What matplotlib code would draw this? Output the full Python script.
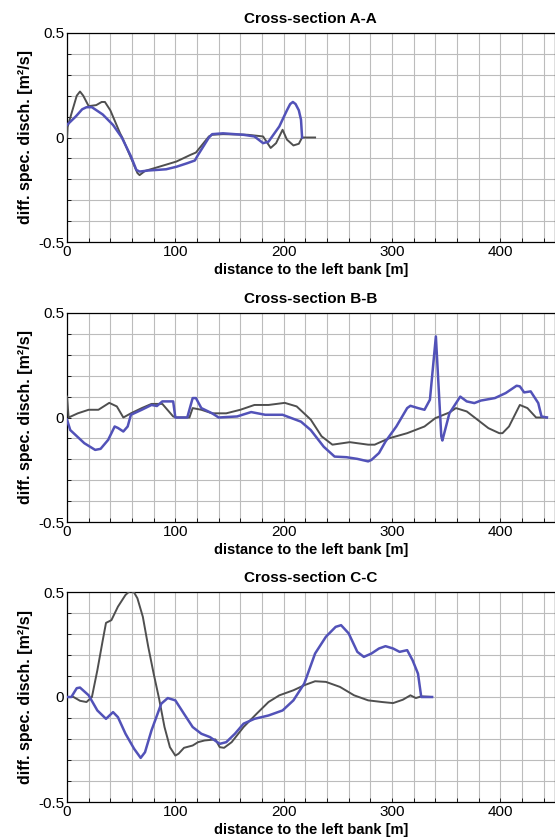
import matplotlib
matplotlib.use("Agg")
from matplotlib import pyplot as plt
from matplotlib.ticker import MultipleLocator, FixedLocator

plt.rcParams['font.family'] = ['Liberation Sans', 'DejaVu Sans']
plt.rcParams['font.size'] = 10

# Cross-section A-A
a_gray_x = [0, 0.5, 5, 9, 12, 15, 20, 27, 32, 35, 40, 49, 51, 65, 67, 72, 85, 101, 114, 119,
            131, 134, 144, 167, 181, 188, 193, 199, 203, 209, 214, 217, 229]
a_gray_y = [0.0, 0.05, 0.13, 0.2, 0.22, 0.2, 0.15, 0.155, 0.17, 0.17, 0.13, 0.02, 0.0, -0.17,
            -0.18, -0.16, -0.14, -0.115, -0.083, -0.072, 0.005, 0.013, 0.016, 0.013, 0.005,
            -0.05, -0.027, 0.037, -0.01, -0.038, -0.03, 0.0, 0.0]
a_blue_x = [0, 8, 14, 18, 23, 33, 42.5, 50.6, 59, 64, 67, 75, 91.5, 101, 111, 118, 121, 131,
            134, 144, 163, 173, 181, 186, 196, 203, 206, 208.5, 211, 214, 216, 217]
a_blue_y = [0.06, 0.10, 0.135, 0.145, 0.145, 0.11, 0.06, 0.0, -0.09, -0.155, -0.163, -0.158,
            -0.152, -0.14, -0.123, -0.11, -0.083, 0.0, 0.016, 0.02, 0.013, 0.005, -0.027, -0.02,
            0.053, 0.13, 0.16, 0.17, 0.16, 0.13, 0.085, 0.0]

# Cross-section B-B
b_gray_x = [0, 1.5, 10, 20, 29, 39, 46, 52, 59, 69, 78, 88, 98, 101, 113, 116, 124, 134, 147,
            160, 173, 186, 201, 212, 225, 235, 245, 261, 278, 284, 297, 314, 330, 340, 353, 359,
            369, 379, 389, 399, 402, 408, 418, 425, 433, 443]
b_gray_y = [0.1, 0.0, 0.02, 0.037, 0.037, 0.07, 0.053, 0.0, 0.02, 0.045, 0.065, 0.065, 0.005,
            0.0, 0.0, 0.045, 0.037, 0.02, 0.02, 0.037, 0.06, 0.06, 0.07, 0.053, -0.01, -0.09,
            -0.13, -0.118, -0.13, -0.13, -0.1, -0.075, -0.043, -0.003, 0.024, 0.045, 0.029,
            -0.011, -0.051, -0.075, -0.075, -0.043, 0.06, 0.045, 0.0, 0.0]
b_blue_x = [0, 3, 16, 26, 31, 38, 44, 47, 52, 56, 59, 69, 78, 83, 88, 98, 100, 111, 116, 119,
            124, 134, 140, 157, 170, 183, 199, 216, 225, 237, 247, 258, 268, 278, 281, 288, 294,
            304, 314, 317, 324, 330, 335, 340.5, 345.5, 346.5, 353, 358, 363, 369, 376, 382, 395,
            405, 415, 418, 422, 428, 435, 438, 443]
b_blue_y = [-0.01, -0.06, -0.123, -0.155, -0.15, -0.107, -0.043, -0.05, -0.067, -0.043, 0.013,
            0.037, 0.06, 0.055, 0.077, 0.077, 0.0, 0.0, 0.093, 0.093, 0.045, 0.02, 0.0, 0.005,
            0.026, 0.013, 0.013, -0.02, -0.06, -0.14, -0.187, -0.19, -0.198, -0.21, -0.203,
            -0.17, -0.115, -0.043, 0.045, 0.056, 0.045, 0.037, 0.085, 0.388, -0.09, -0.11, 0.02,
            0.06, 0.1, 0.077, 0.069, 0.081, 0.093, 0.117, 0.152, 0.149, 0.12, 0.125, 0.069,
            0.005, 0.0]

# Cross-section C-C
c_gray_x = [0, 6, 12, 18, 23, 28, 33, 36, 41, 47, 54, 57, 59, 62, 65, 70, 75, 80, 85, 90, 95,
            100, 103, 108, 116, 121, 127, 137, 141, 145, 152, 163, 175, 186, 196, 209, 219, 229,
            239, 252, 265, 278, 291, 301, 310, 317, 322, 327, 337]
c_gray_y = [0.0, 0.0, -0.018, -0.024, 0.0, 0.127, 0.27, 0.353, 0.366, 0.43, 0.486, 0.5, 0.505,
            0.497, 0.47, 0.382, 0.239, 0.111, -0.008, -0.143, -0.239, -0.279, -0.27, -0.242,
            -0.231, -0.215, -0.207, -0.202, -0.239, -0.242, -0.215, -0.143, -0.08, -0.024,
            0.008, 0.032, 0.056, 0.075, 0.072, 0.048, 0.008, -0.016, -0.024, -0.029, -0.013,
            0.008, -0.005, 0.003, 0.0]
c_blue_x = [0, 4, 9, 12, 20, 28, 36, 42.5, 47, 54, 62, 68, 72, 78, 87, 93, 100, 108, 116, 124,
            132, 141, 147, 155, 163, 173, 186, 199, 209, 219, 229, 239, 248, 253, 260, 268, 274,
            281, 288, 294, 301, 307, 314, 319, 324, 327, 337]
c_blue_y = [0.0, 0.0, 0.042, 0.045, 0.008, -0.064, -0.104, -0.072, -0.096, -0.175, -0.247,
            -0.29, -0.263, -0.159, -0.032, -0.005, -0.016, -0.08, -0.143, -0.175, -0.191,
            -0.223, -0.215, -0.175, -0.127, -0.104, -0.088, -0.064, -0.016, 0.064, 0.207, 0.287,
            0.334, 0.342, 0.303, 0.215, 0.191, 0.207, 0.231, 0.242, 0.231, 0.215, 0.223, 0.175,
            0.111, 0.0, 0.0]

panels = [
    ('Cross-section A-A', a_gray_x, a_gray_y, a_blue_x, a_blue_y, 33, 242),
    ('Cross-section B-B', b_gray_x, b_gray_y, b_blue_x, b_blue_y, 313, 522),
    ('Cross-section C-C', c_gray_x, c_gray_y, c_blue_x, c_blue_y, 592, 802),
]

W, H = 555, 839
fig = plt.figure(figsize=(W / 100, H / 100), dpi=100)

for title, gx, gy, bx, by, top, bottom in panels:
    ax = fig.add_axes([67 / W, (H - bottom) / H, 487.5 / W, (bottom - top) / H])
    ax.plot(gx, gy, color='#4f4f4f', linewidth=1.4, zorder=3, solid_joinstyle='round')
    ax.plot(bx, by, color='#5252b8', linewidth=1.8, zorder=4, solid_joinstyle='round')
    ax.set_xlim(0, 450)
    ax.set_ylim(-0.5, 0.5)
    ax.xaxis.set_major_locator(FixedLocator([0, 100, 200, 300, 400]))
    ax.xaxis.set_minor_locator(MultipleLocator(20))
    ax.yaxis.set_major_locator(FixedLocator([-0.5, 0, 0.5]))
    ax.yaxis.set_minor_locator(MultipleLocator(0.1))
    ax.set_yticklabels(['-0.5', '0', '0.5'])
    ax.grid(True, which='both', color='#bcbcbc', linewidth=0.8)
    ax.tick_params(which='both', direction='in', length=3, width=0.6, labelsize=11,
                   top=False, right=False, pad=2)
    for s in ax.spines.values():
        s.set_linewidth(0.9)
    ax.set_axisbelow(True)
    ax.set_title(title, fontsize=11, fontweight='bold', pad=7.5)
    ax.set_xlabel('distance to the left bank [m]', fontsize=10.5, fontweight='bold', labelpad=3)
    ax.set_ylabel('diff. spec. disch. [m²/s]', fontsize=11.5, fontweight='bold', labelpad=4)

plt.savefig('out.png', dpi=100)
